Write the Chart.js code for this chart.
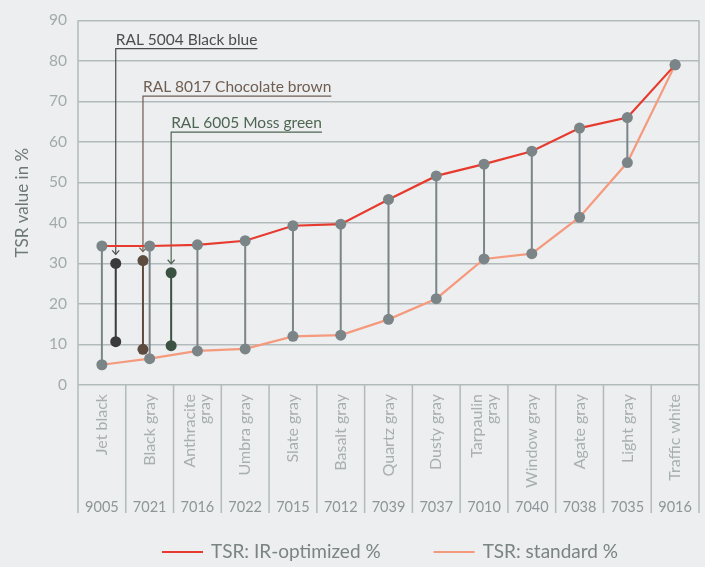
<!DOCTYPE html>
<html>
  <head>
    <script src="https://cdn.jsdelivr.net/npm/chart.js"></script>
    <style>
      body { margin: 0; background: #eceef0; }
    </style>
  </head>

  <body>
    <canvas id="tsr" width="705" height="567"></canvas>

    <script>
      // colour names and codes, x axis
      const categories = [
        ["Jet black"], ["Black gray"], ["Anthracite", "gray"], ["Umbra gray"],
        ["Slate gray"], ["Basalt gray"], ["Quartz gray"], ["Dusty gray"],
        ["Tarpaulin", "gray"], ["Window gray"], ["Agate gray"], ["Light gray"],
        ["Traffic white"],
      ];
      const ralCodes = ["9005", "7021", "7016", "7022", "7015", "7012", "7039",
                        "7037", "7010", "7040", "7038", "7035", "9016"];

      // TSR values in %
      const tsrIr  = [34.3, 34.3, 34.6, 35.6, 39.3, 39.7, 45.8, 51.6, 54.5, 57.7, 63.4, 66.0, 79.0];
      const tsrStd = [5.0, 6.5, 8.4, 8.9, 12.0, 12.3, 16.2, 21.3, 31.1, 32.4, 41.4, 54.9, 79.0];

      // extra colours shown between the first categories
      const ralNames = ["RAL 5004 Black blue", "RAL 8017 Chocolate brown", "RAL 6005 Moss green"];
      const ralX   = [0.29, 0.86, 1.45];
      const ralIr  = [30.0, 30.7, 27.7];
      const ralStd = [10.7, 8.8, 9.7];

      const yTicks = [0, 10, 20, 30, 40, 50, 60, 70, 80, 90];

      const FONT = "Lato, 'Open Sans', sans-serif";
      const gridColor = "#b2babb";
      const dotGray = "#7b8587";
      const red = "#e63b2e";
      const orange = "#f59a7d";
      const ralDots = ["#3a393c", "#5e4b3f", "#3b5242"];
      const ralInk = ["#4b4d50", "#6f5d51", "#4f6652"];
      const ralLevel = [83.0, 71.3, 62.4]; // underline height, in y units

      const decor = {
        id: "decor",
        beforeDatasetsDraw(chart) {
          const { ctx, scales: { x, y } } = chart;
          ctx.save();
          ctx.lineWidth = 2;
          ctx.strokeStyle = dotGray;
          tsrIr.forEach((v, i) => {
            if (Math.abs(v - tsrStd[i]) < 0.5) return;
            const px = x.getPixelForValue(i);
            ctx.beginPath();
            ctx.moveTo(px, y.getPixelForValue(v));
            ctx.lineTo(px, y.getPixelForValue(tsrStd[i]));
            ctx.stroke();
          });

          ctx.font = "15.5px " + FONT;
          ralNames.forEach((name, k) => {
            const px = x.getPixelForValue(ralX[k]);
            const topY = y.getPixelForValue(ralIr[k]);
            ctx.strokeStyle = ralDots[k];
            ctx.lineWidth = 2;
            ctx.beginPath();
            ctx.moveTo(px, topY);
            ctx.lineTo(px, y.getPixelForValue(ralStd[k]));
            ctx.stroke();

            // pointer from label
            const lvl = y.getPixelForValue(ralLevel[k]);
            const w = ctx.measureText(name).width;
            ctx.strokeStyle = ralInk[k];
            ctx.lineWidth = 1.2;
            ctx.beginPath();
            ctx.moveTo(px + w, lvl);
            ctx.lineTo(px, lvl);
            ctx.lineTo(px, topY - 9);
            ctx.stroke();
            ctx.beginPath();
            ctx.moveTo(px - 3.5, topY - 13);
            ctx.lineTo(px, topY - 9);
            ctx.lineTo(px + 3.5, topY - 13);
            ctx.stroke();
            ctx.fillStyle = ralInk[k];
            ctx.textAlign = "left";
            ctx.textBaseline = "alphabetic";
            ctx.fillText(name, px, lvl - 4);
          });
          ctx.restore();
        },
        afterDraw(chart) {
          const { ctx, chartArea, scales: { x } } = chart;
          const top = chartArea.bottom;
          const bottom = x.bottom;
          ctx.save();
          ctx.strokeStyle = gridColor;
          ctx.lineWidth = 1.5;
          for (let i = 0; i <= categories.length; i++) {
            const px = x.getPixelForValue(i - 0.5);
            const start = (i === 0 || i === categories.length) ? chartArea.top : top;
            ctx.beginPath();
            ctx.moveTo(px, start);
            ctx.lineTo(px, bottom);
            ctx.stroke();
          }

          // rotated names
          ctx.fillStyle = "#a8afb0";
          ctx.font = "16px " + FONT;
          ctx.textAlign = "right";
          ctx.textBaseline = "middle";
          categories.forEach((lines, i) => {
            const px = x.getPixelForValue(i);
            ctx.save();
            ctx.translate(px, top + 9);
            ctx.rotate(-Math.PI / 2);
            lines.forEach((t, j) => {
              ctx.fillText(t, 0, (j - (lines.length - 1) / 2) * 15);
            });
            ctx.restore();
          });

          // codes
          ctx.fillStyle = "#8e9697";
          ctx.font = "14.5px " + FONT;
          ctx.textAlign = "center";
          ralCodes.forEach((c, i) => {
            ctx.fillText(c, x.getPixelForValue(i), bottom - 6);
          });

          // legend
          const items = [
            { text: "TSR: IR-optimized %", color: red },
            { text: "TSR: standard %", color: orange },
          ];
          ctx.font = "19px " + FONT;
          ctx.textAlign = "left";
          ctx.fillStyle = "#7b8384";
          let lx = chartArea.left + 84;
          const ly = 552;
          items.forEach((it) => {
            ctx.strokeStyle = it.color;
            ctx.lineWidth = 2.2;
            ctx.beginPath();
            ctx.moveTo(lx, ly);
            ctx.lineTo(lx + 41, ly);
            ctx.stroke();
            ctx.fillText(it.text, lx + 49, ly);
            lx += 49 + ctx.measureText(it.text).width + 53;
          });
          ctx.restore();
        },
      };

      const pts = (vals) => vals.map((v, i) => ({ x: i, y: v }));

      const datasets = [
        {
          label: "TSR: IR-optimized %",
          data: pts(tsrIr),
          borderColor: red,
          backgroundColor: red,
          borderWidth: 2.2,
          pointBackgroundColor: dotGray,
          pointBorderWidth: 0,
          pointRadius: 5.5,
        },
        {
          label: "TSR: standard %",
          data: pts(tsrStd),
          borderColor: orange,
          backgroundColor: orange,
          borderWidth: 2.2,
          pointBackgroundColor: dotGray,
          pointBorderWidth: 0,
          pointRadius: 5.5,
        },
      ];
      ralNames.forEach((name, k) => {
        datasets.push({
          label: name,
          data: [{ x: ralX[k], y: ralIr[k] }, { x: ralX[k], y: ralStd[k] }],
          showLine: false,
          pointBackgroundColor: ralDots[k],
          pointBorderWidth: 0,
          pointRadius: 5.5,
        });
      });

      new Chart(document.getElementById("tsr").getContext("2d"), {
        type: "line",
        data: { datasets },
        plugins: [decor],
        options: {
          responsive: false,
          devicePixelRatio: 1,
          animation: false,
          layout: { padding: { top: 14, right: 6, left: 0, bottom: 54 } },
          plugins: {
            legend: { display: false },
            tooltip: { enabled: false },
          },
          scales: {
            x: {
              type: "linear",
              min: -0.5,
              max: categories.length - 0.5,
              grid: { display: false },
              border: { display: false },
              ticks: { display: false },
              afterFit: (s) => { s.height = 128; },
            },
            y: {
              min: 0,
              max: 90,
              afterBuildTicks: (s) => { s.ticks = yTicks.map((v) => ({ value: v })); },
              afterFit: (s) => { s.width = 78; },
              grid: { color: gridColor, lineWidth: 1.5, drawTicks: false },
              border: { display: false },
              ticks: {
                color: "#a3aaab",
                padding: 11,
                font: { family: FONT, size: 15.5 },
              },
              title: {
                display: true,
                text: "TSR value in %",
                color: "#6e7778",
                padding: { top: 12, bottom: 0 },
                font: { family: FONT, size: 17 },
              },
            },
          },
        },
      });
    </script>
  </body>
</html>
